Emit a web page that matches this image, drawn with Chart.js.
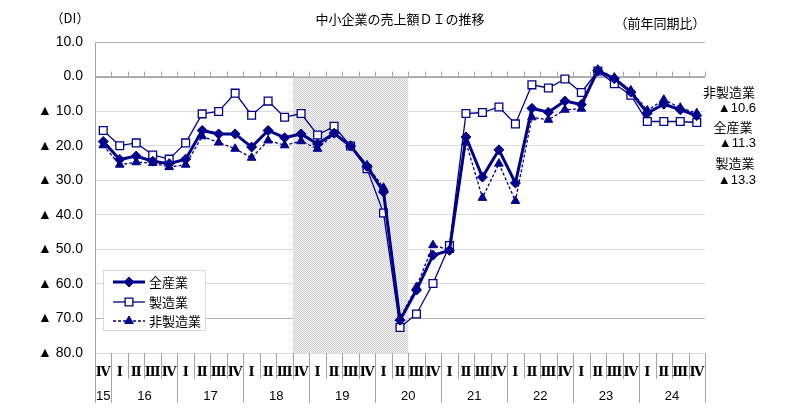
<!DOCTYPE html>
<html>
<head>
<meta charset="utf-8">
<script src="https://cdn.jsdelivr.net/npm/chart.js@4.4.0/dist/chart.umd.min.js"></script>
<style>
html,body{margin:0;padding:0;background:#fff;}
canvas{display:block;}
</style>
</head>
<body>
<canvas id="c" width="792" height="416"></canvas>
<script>
// ---- data ----
const quarterLabels = ['Ⅳ',
  'Ⅰ','Ⅱ','Ⅲ','Ⅳ','Ⅰ','Ⅱ','Ⅲ','Ⅳ','Ⅰ','Ⅱ','Ⅲ','Ⅳ','Ⅰ','Ⅱ','Ⅲ','Ⅳ','Ⅰ','Ⅱ','Ⅲ','Ⅳ',
  'Ⅰ','Ⅱ','Ⅲ','Ⅳ','Ⅰ','Ⅱ','Ⅲ','Ⅳ','Ⅰ','Ⅱ','Ⅲ','Ⅳ','Ⅰ','Ⅱ','Ⅲ','Ⅳ'];
const yearOfQuarter = ['15',
  '16','16','16','16','17','17','17','17','18','18','18','18','19','19','19','19','20','20','20','20',
  '21','21','21','21','22','22','22','22','23','23','23','23','24','24','24','24'];
const categories = quarterLabels.map((q, i) => yearOfQuarter[i] + q);

const allIndustries = [-18.8,-24.0,-23.0,-24.5,-25.2,-23.9,-15.6,-16.6,-16.6,-20.4,-15.6,-17.7,
  -16.6,-19.5,-16.4,-20.1,-26.0,-33.4,-70.5,-61.8,-51.7,-50.3,-17.5,-29.1,-21.2,-30.8,
  -9.2,-10.3,-7.1,-8.1,1.7,-0.6,-4.5,-10.6,-8.0,-9.6,-11.3];
const manufacturing = [-15.6,-20.0,-19.2,-22.7,-23.9,-19.2,-10.8,-10.1,-4.8,-11.2,-7.1,-11.8,
  -10.7,-16.9,-14.4,-20.1,-26.7,-39.5,-72.6,-68.7,-59.9,-48.9,-10.7,-10.4,-8.8,-13.7,
  -2.4,-3.3,-0.7,-4.6,1.6,-2.1,-5.4,-13.0,-13.0,-13.0,-13.3];
const nonManufacturing = [-19.9,-25.5,-24.8,-25.0,-26.2,-25.5,-17.3,-19.1,-20.9,-23.5,-18.5,-19.9,
  -18.7,-20.9,-16.6,-20.0,-25.7,-32.2,-69.9,-60.9,-48.8,-50.2,-19.0,-35.1,-25.2,-36.0,
  -11.8,-12.5,-9.6,-9.3,2.0,-0.3,-4.0,-9.8,-6.7,-9.0,-10.6];

const seriesNames = ['全産業','製造業','非製造業'];
const latestLabels = [['非製造業','▲10.6'],['全産業','▲11.3'],['製造業','▲13.3']];
const shadeStart = 12, shadeEnd = 18;   // 2018Ⅳ – 2020Ⅱ
const yTicks = [10,0,-10,-20,-30,-40,-50,-60,-70,-80];

const NAVY = '#00008B';
const JP = '"Noto Sans CJK JP", sans-serif';
const NUM = '"Liberation Sans", "Noto Sans CJK JP", Arial, sans-serif';

function makePattern(ctx){
  const p = document.createElement('canvas');
  p.width = 2; p.height = 2;
  const pc = p.getContext('2d');
  pc.fillStyle = '#f0f0f0'; pc.fillRect(0,0,2,2);
  pc.fillStyle = '#d2d2d2'; pc.fillRect(0,0,1,1); pc.fillRect(1,1,1,1);
  return ctx.createPattern(p, 'repeat');
}

const decor = {
  id: 'decor',
  beforeDatasetsDraw(chart){
    const ctx = chart.ctx, xs = chart.scales.x, ys = chart.scales.y;
    const half = (xs.getPixelForValue(1) - xs.getPixelForValue(0)) / 2;
    const y0 = ys.getPixelForValue(0), yb = ys.getPixelForValue(-80), yt = ys.getPixelForValue(10);
    ctx.save();
    const sx0 = xs.getPixelForValue(shadeStart) - half, sx1 = xs.getPixelForValue(shadeEnd) + half;
    ctx.fillStyle = makePattern(ctx);
    ctx.fillRect(sx0, y0, sx1 - sx0, yb - y0);
    ctx.strokeStyle = '#a6a6a6'; ctx.lineWidth = 1;
    ctx.beginPath();
    ctx.moveTo(xs.left, Math.round(y0)+0.5); ctx.lineTo(xs.right, Math.round(y0)+0.5);
    for (let i = 0; i <= categories.length; i++){
      const bx = Math.round(xs.getPixelForValue(0) - half + i*2*half) + 0.5;
      ctx.moveTo(bx, y0 - 5); ctx.lineTo(bx, y0);
    }
    ctx.stroke();
    ctx.beginPath();
    ctx.moveTo(Math.round(xs.left)+0.5, yt); ctx.lineTo(Math.round(xs.left)+0.5, 403);
    ctx.stroke();
    ctx.beginPath();
    for (let i = 0; i <= categories.length; i++){
      const bx = Math.round(xs.getPixelForValue(0) - half + i*2*half) + 0.5;
      const yearBreak = i === 0 || i === categories.length || yearOfQuarter[i] !== yearOfQuarter[i-1];
      ctx.moveTo(bx, yb); ctx.lineTo(bx, yearBreak ? 403 : 379);
    }
    ctx.stroke();
    ctx.restore();
  },
  afterDraw(chart){
    const ctx = chart.ctx, xs = chart.scales.x;
    ctx.save();
    ctx.fillStyle = '#000';
    ctx.textBaseline = 'middle';
    ctx.font = '13px ' + JP;
    ctx.textAlign = 'center';
    ctx.fillText('中小企業の売上額ＤＩの推移', 400, 19);
    ctx.fillText('（DI）', 70, 18);
    ctx.fillText('（前年同期比）', 660, 23);
    const ly = [[92,108],[127,143],[163,180]];
    latestLabels.forEach((pair, k) => {
      ctx.font = '13px ' + JP; ctx.textAlign = 'center';
      ctx.fillText(pair[0], [729,733,735][k], ly[k][0]);
      ctx.font = '13px ' + NUM; ctx.textAlign = 'right';
      ctx.fillText(pair[1], 756, ly[k][1]);
    });
    ctx.textAlign = 'center';
    ctx.font = 'bold 13px "DejaVu Serif", serif';
    quarterLabels.forEach((q, i) => {
      ctx.fillText(q, xs.getPixelForValue(i), 373);
    });
    ctx.font = '13px ' + NUM;
    let start = 0;
    for (let i = 1; i <= yearOfQuarter.length; i++){
      if (i === yearOfQuarter.length || yearOfQuarter[i] !== yearOfQuarter[start]){
        const cx = (xs.getPixelForValue(start) + xs.getPixelForValue(i-1)) / 2;
        ctx.fillText(yearOfQuarter[start], cx, 396);
        start = i;
      }
    }
    ctx.fillStyle = '#fff'; ctx.strokeStyle = '#d9d9d9'; ctx.lineWidth = 1;
    ctx.fillRect(103.5, 270.5, 102, 60); ctx.strokeRect(103.5, 270.5, 102, 60);
    const legY = [282, 302, 321];
    chart.data.datasets.forEach((ds, k) => {
      const y = legY[k];
      ctx.strokeStyle = ds.borderColor; ctx.lineWidth = ds.borderWidth;
      ctx.setLineDash(ds.borderDash || []);
      ctx.beginPath(); ctx.moveTo(113, y); ctx.lineTo(145, y); ctx.stroke();
      ctx.setLineDash([]);
      ctx.fillStyle = ds.pointBackgroundColor; ctx.strokeStyle = ds.pointBorderColor;
      ctx.lineWidth = ds.pointBorderWidth;
      Chart.helpers.drawPoint(ctx, {pointStyle: ds.pointStyle, radius: ds.pointRadius, rotation: 0, borderWidth: ds.pointBorderWidth}, 129, y);
      ctx.fillStyle = '#000'; ctx.textAlign = 'left'; ctx.font = '13px ' + JP;
      ctx.fillText(ds.label, 149, y);
    });
    ctx.restore();
  }
};

new Chart(document.getElementById('c'), {
  type: 'line',
  data: {
    labels: categories,
    datasets: [
      {label: seriesNames[0], data: allIndustries, borderColor: NAVY, borderWidth: 3,
       pointStyle: 'rectRot', pointRadius: 5, pointBackgroundColor: NAVY, pointBorderColor: NAVY,
       pointBorderWidth: 1, order: 1},
      {label: seriesNames[1], data: manufacturing, borderColor: NAVY, borderWidth: 1.3,
       pointStyle: 'rect', pointRadius: 5.5, pointBackgroundColor: '#fff', pointBorderColor: NAVY,
       pointBorderWidth: 1.3, order: 2},
      {label: seriesNames[2], data: nonManufacturing, borderColor: NAVY, borderWidth: 1.3, borderDash: [3,2],
       pointStyle: 'triangle', pointRadius: 5, pointBackgroundColor: NAVY, pointBorderColor: NAVY,
       pointBorderWidth: 1, order: 3}
    ]
  },
  options: {
    responsive: false,
    animation: false,
    layout: {padding: {left: 0, right: 87, top: 42, bottom: 0}},
    plugins: {legend: {display: false}, tooltip: {enabled: false}},
    elements: {line: {tension: 0}},
    scales: {
      x: {
        type: 'category', offset: true,
        grid: {display: false, drawTicks: false}, border: {display: false},
        ticks: {display: false},
        afterFit(s){ s.height = 63; }
      },
      y: {
        min: -80, max: 10,
        afterBuildTicks(s){ s.ticks = yTicks.map(v => ({value: v})); },
        grid: {
          drawTicks: false,
          color: c => ([10, 0, -70].includes(c.tick.value) ? '#b3b3b3' : '#dcdcdc'),
          lineWidth: 1
        },
        border: {display: false},
        ticks: {
          padding: 12, color: '#000',
          font: {family: '"Liberation Sans", "Noto Sans CJK JP", Arial, sans-serif', size: 14},
          callback: v => v < 0 ? '▲ ' + Math.abs(v).toFixed(1) : v.toFixed(1)
        },
        afterFit(s){ s.width = 95; }
      }
    }
  },
  plugins: [decor]
});
</script>
</body>
</html>
